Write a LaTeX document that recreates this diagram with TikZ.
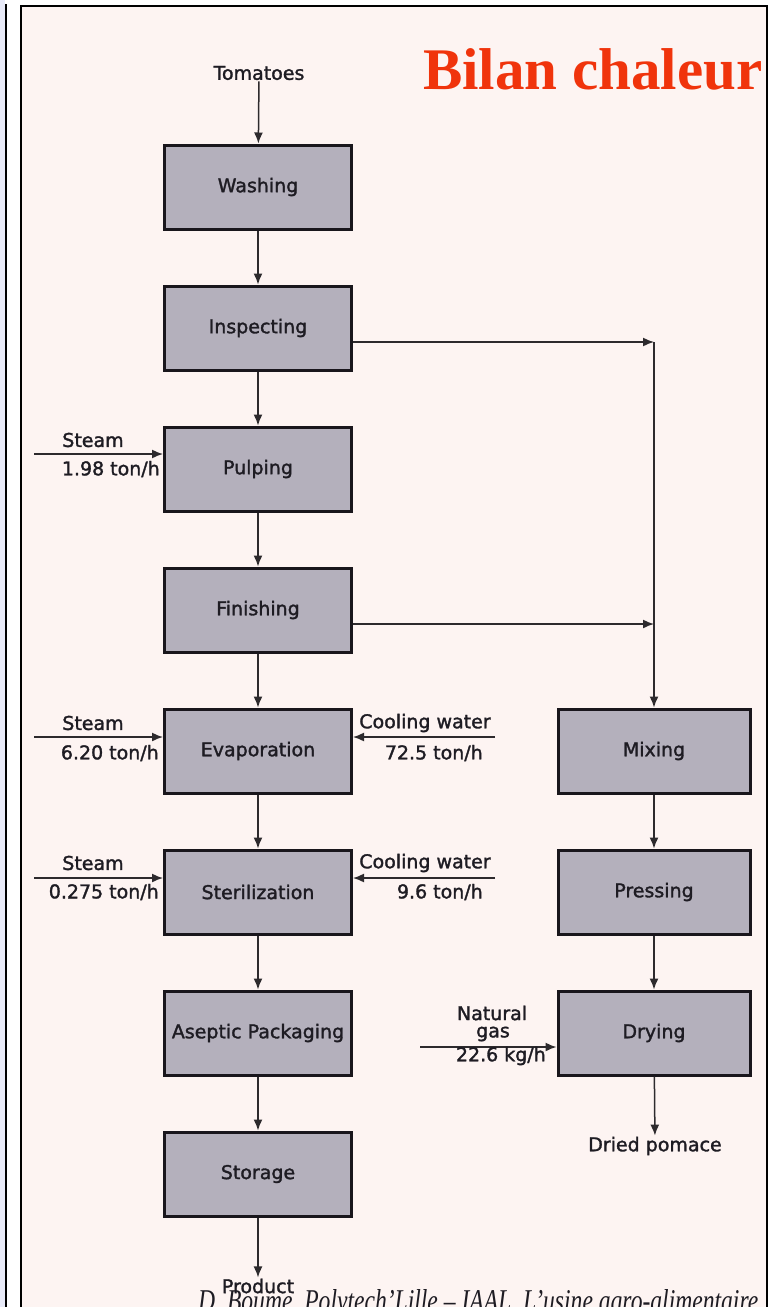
\documentclass[tikz,border=0pt]{standalone}
\usepackage{fontspec}
\usetikzlibrary{arrows.meta}
\newfontfamily\labelfont[FakeBold=1.6]{DejaVu Sans}
\newfontfamily\titlefont{Liberation Serif}
\definecolor{pagebg}{RGB}{253,244,242}
\definecolor{stripblue}{RGB}{232,234,248}
\definecolor{boxfill}{RGB}{180,176,188}
\definecolor{boxline}{RGB}{25,22,28}
\definecolor{flowline}{RGB}{45,42,45}
\definecolor{ink}{RGB}{30,28,35}
\definecolor{titlered}{RGB}{240,52,12}
\begin{document}
\begin{tikzpicture}[x=1pt,y=-1pt,
  stage/.style={draw=boxline, line width=3pt, fill=boxfill, minimum width=187pt,
    minimum height=84pt, inner sep=0pt, text=ink,
    font=\labelfont\fontsize{19}{22}\selectfont},
  wide/.style={minimum width=192pt},
  lbl/.style={inner sep=1pt, text=ink, font=\labelfont\fontsize{19}{22}\selectfont},
  flow/.style={draw=flowline, line width=1.5pt, -{Latex[length=11pt,width=9pt]}}]

% page, side strip and slide frame
\path[use as bounding box] (0,0) rectangle (775,1307);
\clip (0,0) rectangle (775,1307);
\fill[white] (0,0) rectangle (775,1307);
\fill[stripblue] (0,0) rectangle (5,1307);
\draw[black, line width=1.8pt] (6,4) -- (6,1320);
\draw[black, line width=2pt, fill=pagebg] (21,6) rectangle (767,1330);

% title
\node[anchor=base west, inner sep=0pt, text=titlered,
  font=\titlefont\bfseries\fontsize{59}{60}\selectfont] (title) at (423,89) {Bilan chaleur};

% main processing line
\node[lbl] (tom) at (259,73) {Tomatoes};
\node[stage] (wash) at (258,187) {Washing};
\node[stage] (insp) at (258,328) {Inspecting};
\node[stage] (pulp) at (258,469) {Pulping};
\node[stage] (fin)  at (258,610) {Finishing};
\node[stage] (evap) at (258,751) {Evaporation};
\node[stage] (ster) at (258,892) {Sterilization};
\node[stage] (asep) at (258,1033) {Aseptic Packaging};
\node[stage] (stor) at (258,1174) {Storage};
\node[lbl] (prod) at (258,1286) {Product};

% pomace line
\node[stage, wide] (mix)   at (654,751) {Mixing};
\node[stage, wide] (press) at (654,892) {Pressing};
\node[stage, wide] (dry)   at (654,1033) {Drying};
\node[lbl] (pom) at (655,1146) {Dried pomace};

\draw[flow] (tom) -- (wash);
\draw[flow] (wash) -- (insp);
\draw[flow] (insp) -- (pulp);
\draw[flow] (pulp) -- (fin);
\draw[flow] (fin) -- (evap);
\draw[flow] (evap) -- (ster);
\draw[flow] (ster) -- (asep);
\draw[flow] (asep) -- (stor);
\draw[flow] (stor) -- (prod);

% by-products to the mixing step
\coordinate (j1) at (654,342);
\coordinate (j2) at (654,624);
\draw[flow] (insp.east |- j1) -- (j1);
\draw[flow] (fin.east |- j2) -- (j2);
\draw[flow] (j1) -- (mix.north);
\draw[flow] (mix) -- (press);
\draw[flow] (press) -- (dry);
\draw[flow] (dry) -- (pom);

% steam inputs
\coordinate (sp) at (34,454);
\draw[flow] (sp) -- (pulp.west |- sp);
\node[lbl] (sp1) at (93,440) {Steam};
\node[lbl, anchor=east] (sp2) at (161,469) {1.98 ton/h};

\coordinate (se) at (34,737);
\draw[flow] (se) -- (evap.west |- se);
\node[lbl] (se1) at (93,723) {Steam};
\node[lbl, anchor=east] (se2) at (160,753) {6.20 ton/h};

\coordinate (ss) at (34,878);
\draw[flow] (ss) -- (ster.west |- ss);
\node[lbl] (ss1) at (93,863) {Steam};
\node[lbl, anchor=east] (ss2) at (160,892) {0.275 ton/h};

% cooling water inputs
\coordinate (ce) at (495,737);
\draw[flow] (ce) -- (evap.east |- ce);
\node[lbl] (ce1) at (425,723) {Cooling water};
\node[lbl, anchor=east] (ce2) at (484,753) {72.5 ton/h};

\coordinate (cs) at (495,878);
\draw[flow] (cs) -- (ster.east |- cs);
\node[lbl] (cs1) at (425,863) {Cooling water};
\node[lbl, anchor=east] (cs2) at (484,892) {9.6 ton/h};

% natural gas to the dryer
\coordinate (ng) at (420,1047);
\draw[flow] (ng) -- (dry.west |- ng);
\node[lbl] (ng1) at (492,1013) {Natural};
\node[lbl] (ng2) at (493,1034) {gas};
\node[lbl, anchor=east] (ng3) at (547,1056) {22.6 kg/h};

% footer
\node[anchor=base west, inner sep=0pt, text=ink] (foot) at (198,1311)
  {\resizebox{560pt}{22pt}{\titlefont\itshape D. Boume, Polytech’Lille – IAAL, L’usine agro-alimentaire}};
\end{tikzpicture}
\end{document}
